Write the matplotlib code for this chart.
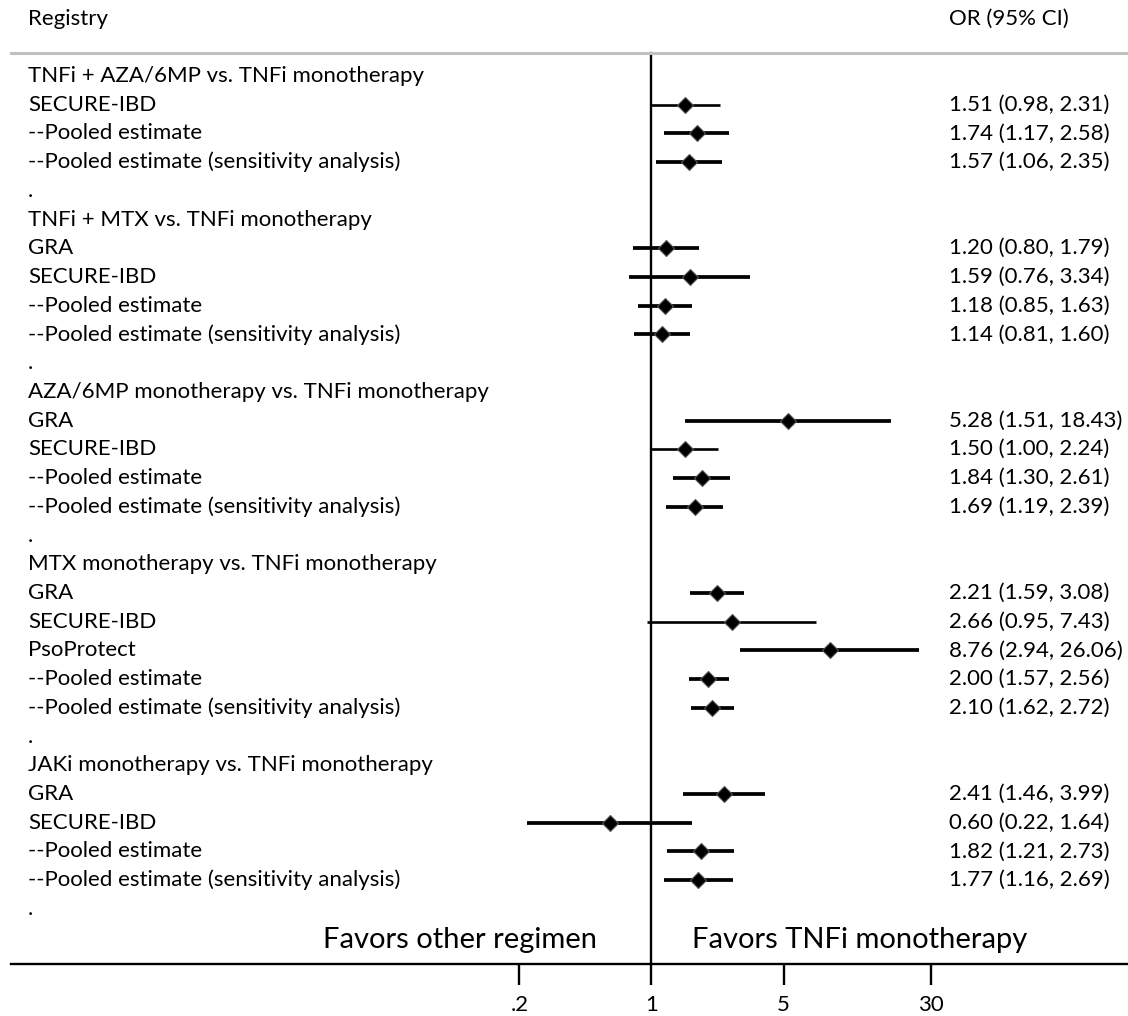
import numpy as np
import matplotlib
matplotlib.use('Agg')
import matplotlib.pyplot as plt
import matplotlib.transforms as mtransforms

plt.rcParams['font.family'] = ['Lato', 'DejaVu Sans']

nan = np.nan

# rows of the forest plot, top to bottom
row_labels = [
    'TNFi + AZA/6MP vs. TNFi monotherapy', 'SECURE-IBD', '--Pooled estimate',
    '--Pooled estimate (sensitivity analysis)', '.',
    'TNFi + MTX vs. TNFi monotherapy', 'GRA', 'SECURE-IBD', '--Pooled estimate',
    '--Pooled estimate (sensitivity analysis)', '.',
    'AZA/6MP monotherapy vs. TNFi monotherapy', 'GRA', 'SECURE-IBD', '--Pooled estimate',
    '--Pooled estimate (sensitivity analysis)', '.',
    'MTX monotherapy vs. TNFi monotherapy', 'GRA', 'SECURE-IBD', 'PsoProtect',
    '--Pooled estimate', '--Pooled estimate (sensitivity analysis)', '.',
    'JAKi monotherapy vs. TNFi monotherapy', 'GRA', 'SECURE-IBD', '--Pooled estimate',
    '--Pooled estimate (sensitivity analysis)', '.',
]
odds = [nan, 1.51, 1.74, 1.57, nan,
        nan, 1.20, 1.59, 1.18, 1.14, nan,
        nan, 5.28, 1.50, 1.84, 1.69, nan,
        nan, 2.21, 2.66, 8.76, 2.00, 2.10, nan,
        nan, 2.41, 0.60, 1.82, 1.77, nan]
ci_low = [nan, 0.98, 1.17, 1.06, nan,
          nan, 0.80, 0.76, 0.85, 0.81, nan,
          nan, 1.51, 1.00, 1.30, 1.19, nan,
          nan, 1.59, 0.95, 2.94, 1.57, 1.62, nan,
          nan, 1.46, 0.22, 1.21, 1.16, nan]
ci_high = [nan, 2.31, 2.58, 2.35, nan,
           nan, 1.79, 3.34, 1.63, 1.60, nan,
           nan, 18.43, 2.24, 2.61, 2.39, nan,
           nan, 3.08, 7.43, 26.06, 2.56, 2.72, nan,
           nan, 3.99, 1.64, 2.73, 2.69, nan]

ticks = [0.2, 1, 5, 30]
tick_labels = ['.2', '1', '5', '30']

thin_rows = [1, 13, 19]

fs = 16

fig = plt.figure(figsize=(11.28, 10.16), dpi=100)
ax = fig.add_axes([11 / 1128, 52 / 1016, 1116 / 1128, 964 / 1016])
ax.set_xscale('log')
ax.set_xlim(10 ** (-640.5 / 189), 10 ** (475.5 / 189))
ax.set_ylim(30.92, -2.646)

for s in ['left', 'right', 'top']:
    ax.spines[s].set_visible(False)
ax.spines['bottom'].set_linewidth(1.7)
ax.set_yticks([])
ax.set_xticks(ticks)
ax.set_xticklabels(tick_labels, fontsize=fs)
ax.xaxis.set_minor_locator(matplotlib.ticker.NullLocator())
ax.tick_params(axis='x', length=15, width=1.7, pad=7)

# null line and header rule
ax.plot([1, 1], [-0.8, 30.92], color='black', lw=1.7, clip_on=False)
ax.plot([ax.get_xlim()[0], ax.get_xlim()[1]], [-0.8, -0.8], color='#c0c0c0', lw=2.2, clip_on=False)

trans = mtransforms.blended_transform_factory(ax.transAxes, ax.transData)
lab_x = (28 - 11) / 1116
val_x = (949 - 11) / 1116

ax.text(lab_x, -2.0, 'Registry', transform=trans, fontsize=fs, va='center')
ax.text(val_x, -2.0, 'OR (95% CI)', transform=trans, fontsize=fs, va='center')

for i, lab in enumerate(row_labels):
    ax.text(lab_x, i, lab, transform=trans, fontsize=fs, va='center')
    if np.isnan(odds[i]):
        continue
    lw = 1.9 if i in thin_rows else 2.7
    ax.plot([ci_low[i], ci_high[i]], [i, i], color='black', lw=lw, solid_capstyle='butt')
    ax.plot(odds[i], i, marker='D', ms=8, color='black', mec='#555555', mew=0.8)
    ax.text(val_x, i, f'{odds[i]:.2f} ({ci_low[i]:.2f}, {ci_high[i]:.2f})',
            transform=trans, fontsize=fs, va='center')

ax.text((597 - 11) / 1116, 30.08, 'Favors other regimen', transform=trans,
        fontsize=21, va='center', ha='right')
ax.text((692 - 11) / 1116, 30.08, 'Favors TNFi monotherapy', transform=trans,
        fontsize=21, va='center', ha='left')

fig.savefig('out.png', dpi=100)
